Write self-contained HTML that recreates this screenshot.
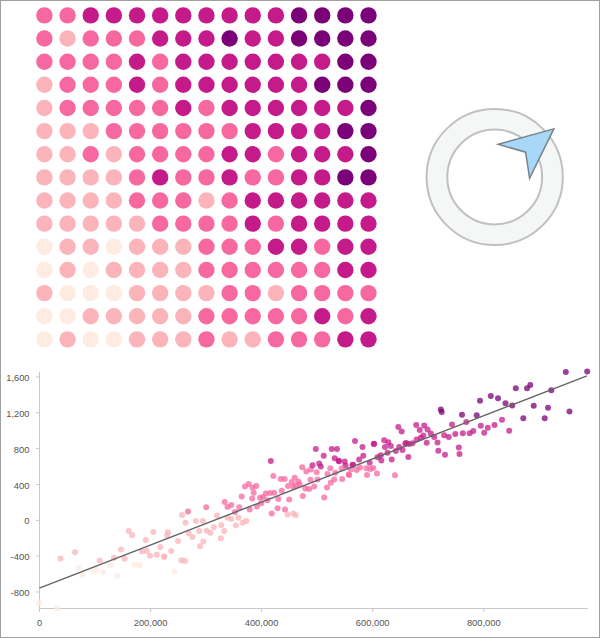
<!DOCTYPE html>
<html><head><meta charset="utf-8"><style>
html,body{margin:0;padding:0;background:#fff;}
body{width:600px;height:638px;overflow:hidden;position:relative;}
svg{position:absolute;left:0;top:0;display:block;}
text{font-family:"Liberation Sans",sans-serif;font-size:9.3px;fill:#555;}
</style></head><body>
<svg width="600" height="638" viewBox="0 0 600 638">
<rect x="0.5" y="0.5" width="599" height="637" fill="#fff" stroke="#a0a0a0" stroke-width="1"/>
<g>
<circle cx="44.40" cy="15.40" r="8.2" fill="#f768a1"/>
<circle cx="67.55" cy="15.40" r="8.2" fill="#f768a1"/>
<circle cx="90.70" cy="15.40" r="8.2" fill="#c51b8a"/>
<circle cx="113.85" cy="15.40" r="8.2" fill="#c51b8a"/>
<circle cx="137.00" cy="15.40" r="8.2" fill="#c51b8a"/>
<circle cx="160.15" cy="15.40" r="8.2" fill="#c51b8a"/>
<circle cx="183.30" cy="15.40" r="8.2" fill="#c51b8a"/>
<circle cx="206.45" cy="15.40" r="8.2" fill="#c51b8a"/>
<circle cx="229.60" cy="15.40" r="8.2" fill="#c51b8a"/>
<circle cx="252.75" cy="15.40" r="8.2" fill="#c51b8a"/>
<circle cx="275.90" cy="15.40" r="8.2" fill="#c51b8a"/>
<circle cx="299.05" cy="15.40" r="8.2" fill="#7a0177"/>
<circle cx="322.20" cy="15.40" r="8.2" fill="#7a0177"/>
<circle cx="345.35" cy="15.40" r="8.2" fill="#7a0177"/>
<circle cx="368.50" cy="15.40" r="8.2" fill="#7a0177"/>
<circle cx="44.40" cy="38.54" r="8.2" fill="#f768a1"/>
<circle cx="67.55" cy="38.54" r="8.2" fill="#fbb4b9"/>
<circle cx="90.70" cy="38.54" r="8.2" fill="#f768a1"/>
<circle cx="113.85" cy="38.54" r="8.2" fill="#f768a1"/>
<circle cx="137.00" cy="38.54" r="8.2" fill="#f768a1"/>
<circle cx="160.15" cy="38.54" r="8.2" fill="#c51b8a"/>
<circle cx="183.30" cy="38.54" r="8.2" fill="#c51b8a"/>
<circle cx="206.45" cy="38.54" r="8.2" fill="#c51b8a"/>
<circle cx="229.60" cy="38.54" r="8.2" fill="#7a0177"/>
<circle cx="252.75" cy="38.54" r="8.2" fill="#c51b8a"/>
<circle cx="275.90" cy="38.54" r="8.2" fill="#c51b8a"/>
<circle cx="299.05" cy="38.54" r="8.2" fill="#7a0177"/>
<circle cx="322.20" cy="38.54" r="8.2" fill="#7a0177"/>
<circle cx="345.35" cy="38.54" r="8.2" fill="#7a0177"/>
<circle cx="368.50" cy="38.54" r="8.2" fill="#7a0177"/>
<circle cx="44.40" cy="61.68" r="8.2" fill="#f768a1"/>
<circle cx="67.55" cy="61.68" r="8.2" fill="#f768a1"/>
<circle cx="90.70" cy="61.68" r="8.2" fill="#f768a1"/>
<circle cx="113.85" cy="61.68" r="8.2" fill="#f768a1"/>
<circle cx="137.00" cy="61.68" r="8.2" fill="#c51b8a"/>
<circle cx="160.15" cy="61.68" r="8.2" fill="#f768a1"/>
<circle cx="183.30" cy="61.68" r="8.2" fill="#c51b8a"/>
<circle cx="206.45" cy="61.68" r="8.2" fill="#c51b8a"/>
<circle cx="229.60" cy="61.68" r="8.2" fill="#c51b8a"/>
<circle cx="252.75" cy="61.68" r="8.2" fill="#c51b8a"/>
<circle cx="275.90" cy="61.68" r="8.2" fill="#c51b8a"/>
<circle cx="299.05" cy="61.68" r="8.2" fill="#c51b8a"/>
<circle cx="322.20" cy="61.68" r="8.2" fill="#c51b8a"/>
<circle cx="345.35" cy="61.68" r="8.2" fill="#7a0177"/>
<circle cx="368.50" cy="61.68" r="8.2" fill="#7a0177"/>
<circle cx="44.40" cy="84.82" r="8.2" fill="#fbb4b9"/>
<circle cx="67.55" cy="84.82" r="8.2" fill="#f768a1"/>
<circle cx="90.70" cy="84.82" r="8.2" fill="#f768a1"/>
<circle cx="113.85" cy="84.82" r="8.2" fill="#f768a1"/>
<circle cx="137.00" cy="84.82" r="8.2" fill="#c51b8a"/>
<circle cx="160.15" cy="84.82" r="8.2" fill="#f768a1"/>
<circle cx="183.30" cy="84.82" r="8.2" fill="#c51b8a"/>
<circle cx="206.45" cy="84.82" r="8.2" fill="#c51b8a"/>
<circle cx="229.60" cy="84.82" r="8.2" fill="#c51b8a"/>
<circle cx="252.75" cy="84.82" r="8.2" fill="#c51b8a"/>
<circle cx="275.90" cy="84.82" r="8.2" fill="#c51b8a"/>
<circle cx="299.05" cy="84.82" r="8.2" fill="#c51b8a"/>
<circle cx="322.20" cy="84.82" r="8.2" fill="#7a0177"/>
<circle cx="345.35" cy="84.82" r="8.2" fill="#7a0177"/>
<circle cx="368.50" cy="84.82" r="8.2" fill="#7a0177"/>
<circle cx="44.40" cy="107.96" r="8.2" fill="#fbb4b9"/>
<circle cx="67.55" cy="107.96" r="8.2" fill="#f768a1"/>
<circle cx="90.70" cy="107.96" r="8.2" fill="#f768a1"/>
<circle cx="113.85" cy="107.96" r="8.2" fill="#f768a1"/>
<circle cx="137.00" cy="107.96" r="8.2" fill="#f768a1"/>
<circle cx="160.15" cy="107.96" r="8.2" fill="#f768a1"/>
<circle cx="183.30" cy="107.96" r="8.2" fill="#c51b8a"/>
<circle cx="206.45" cy="107.96" r="8.2" fill="#f768a1"/>
<circle cx="229.60" cy="107.96" r="8.2" fill="#c51b8a"/>
<circle cx="252.75" cy="107.96" r="8.2" fill="#c51b8a"/>
<circle cx="275.90" cy="107.96" r="8.2" fill="#c51b8a"/>
<circle cx="299.05" cy="107.96" r="8.2" fill="#c51b8a"/>
<circle cx="322.20" cy="107.96" r="8.2" fill="#c51b8a"/>
<circle cx="345.35" cy="107.96" r="8.2" fill="#c51b8a"/>
<circle cx="368.50" cy="107.96" r="8.2" fill="#7a0177"/>
<circle cx="44.40" cy="131.10" r="8.2" fill="#fbb4b9"/>
<circle cx="67.55" cy="131.10" r="8.2" fill="#fbb4b9"/>
<circle cx="90.70" cy="131.10" r="8.2" fill="#fbb4b9"/>
<circle cx="113.85" cy="131.10" r="8.2" fill="#f768a1"/>
<circle cx="137.00" cy="131.10" r="8.2" fill="#f768a1"/>
<circle cx="160.15" cy="131.10" r="8.2" fill="#f768a1"/>
<circle cx="183.30" cy="131.10" r="8.2" fill="#f768a1"/>
<circle cx="206.45" cy="131.10" r="8.2" fill="#f768a1"/>
<circle cx="229.60" cy="131.10" r="8.2" fill="#f768a1"/>
<circle cx="252.75" cy="131.10" r="8.2" fill="#c51b8a"/>
<circle cx="275.90" cy="131.10" r="8.2" fill="#c51b8a"/>
<circle cx="299.05" cy="131.10" r="8.2" fill="#c51b8a"/>
<circle cx="322.20" cy="131.10" r="8.2" fill="#c51b8a"/>
<circle cx="345.35" cy="131.10" r="8.2" fill="#7a0177"/>
<circle cx="368.50" cy="131.10" r="8.2" fill="#7a0177"/>
<circle cx="44.40" cy="154.24" r="8.2" fill="#fbb4b9"/>
<circle cx="67.55" cy="154.24" r="8.2" fill="#fbb4b9"/>
<circle cx="90.70" cy="154.24" r="8.2" fill="#f768a1"/>
<circle cx="113.85" cy="154.24" r="8.2" fill="#fbb4b9"/>
<circle cx="137.00" cy="154.24" r="8.2" fill="#f768a1"/>
<circle cx="160.15" cy="154.24" r="8.2" fill="#f768a1"/>
<circle cx="183.30" cy="154.24" r="8.2" fill="#f768a1"/>
<circle cx="206.45" cy="154.24" r="8.2" fill="#f768a1"/>
<circle cx="229.60" cy="154.24" r="8.2" fill="#c51b8a"/>
<circle cx="252.75" cy="154.24" r="8.2" fill="#c51b8a"/>
<circle cx="275.90" cy="154.24" r="8.2" fill="#f768a1"/>
<circle cx="299.05" cy="154.24" r="8.2" fill="#c51b8a"/>
<circle cx="322.20" cy="154.24" r="8.2" fill="#c51b8a"/>
<circle cx="345.35" cy="154.24" r="8.2" fill="#c51b8a"/>
<circle cx="368.50" cy="154.24" r="8.2" fill="#7a0177"/>
<circle cx="44.40" cy="177.38" r="8.2" fill="#fbb4b9"/>
<circle cx="67.55" cy="177.38" r="8.2" fill="#fbb4b9"/>
<circle cx="90.70" cy="177.38" r="8.2" fill="#fbb4b9"/>
<circle cx="113.85" cy="177.38" r="8.2" fill="#fbb4b9"/>
<circle cx="137.00" cy="177.38" r="8.2" fill="#f768a1"/>
<circle cx="160.15" cy="177.38" r="8.2" fill="#c51b8a"/>
<circle cx="183.30" cy="177.38" r="8.2" fill="#f768a1"/>
<circle cx="206.45" cy="177.38" r="8.2" fill="#f768a1"/>
<circle cx="229.60" cy="177.38" r="8.2" fill="#c51b8a"/>
<circle cx="252.75" cy="177.38" r="8.2" fill="#f768a1"/>
<circle cx="275.90" cy="177.38" r="8.2" fill="#f768a1"/>
<circle cx="299.05" cy="177.38" r="8.2" fill="#c51b8a"/>
<circle cx="322.20" cy="177.38" r="8.2" fill="#c51b8a"/>
<circle cx="345.35" cy="177.38" r="8.2" fill="#7a0177"/>
<circle cx="368.50" cy="177.38" r="8.2" fill="#7a0177"/>
<circle cx="44.40" cy="200.52" r="8.2" fill="#fbb4b9"/>
<circle cx="67.55" cy="200.52" r="8.2" fill="#fbb4b9"/>
<circle cx="90.70" cy="200.52" r="8.2" fill="#fbb4b9"/>
<circle cx="113.85" cy="200.52" r="8.2" fill="#fbb4b9"/>
<circle cx="137.00" cy="200.52" r="8.2" fill="#f768a1"/>
<circle cx="160.15" cy="200.52" r="8.2" fill="#f768a1"/>
<circle cx="183.30" cy="200.52" r="8.2" fill="#f768a1"/>
<circle cx="206.45" cy="200.52" r="8.2" fill="#fbb4b9"/>
<circle cx="229.60" cy="200.52" r="8.2" fill="#f768a1"/>
<circle cx="252.75" cy="200.52" r="8.2" fill="#c51b8a"/>
<circle cx="275.90" cy="200.52" r="8.2" fill="#c51b8a"/>
<circle cx="299.05" cy="200.52" r="8.2" fill="#c51b8a"/>
<circle cx="322.20" cy="200.52" r="8.2" fill="#c51b8a"/>
<circle cx="345.35" cy="200.52" r="8.2" fill="#c51b8a"/>
<circle cx="368.50" cy="200.52" r="8.2" fill="#c51b8a"/>
<circle cx="44.40" cy="223.66" r="8.2" fill="#fbb4b9"/>
<circle cx="67.55" cy="223.66" r="8.2" fill="#fbb4b9"/>
<circle cx="90.70" cy="223.66" r="8.2" fill="#fbb4b9"/>
<circle cx="113.85" cy="223.66" r="8.2" fill="#fbb4b9"/>
<circle cx="137.00" cy="223.66" r="8.2" fill="#fbb4b9"/>
<circle cx="160.15" cy="223.66" r="8.2" fill="#f768a1"/>
<circle cx="183.30" cy="223.66" r="8.2" fill="#f768a1"/>
<circle cx="206.45" cy="223.66" r="8.2" fill="#f768a1"/>
<circle cx="229.60" cy="223.66" r="8.2" fill="#f768a1"/>
<circle cx="252.75" cy="223.66" r="8.2" fill="#c51b8a"/>
<circle cx="275.90" cy="223.66" r="8.2" fill="#f768a1"/>
<circle cx="299.05" cy="223.66" r="8.2" fill="#c51b8a"/>
<circle cx="322.20" cy="223.66" r="8.2" fill="#c51b8a"/>
<circle cx="345.35" cy="223.66" r="8.2" fill="#c51b8a"/>
<circle cx="368.50" cy="223.66" r="8.2" fill="#c51b8a"/>
<circle cx="44.40" cy="246.80" r="8.2" fill="#feebe2"/>
<circle cx="67.55" cy="246.80" r="8.2" fill="#fbb4b9"/>
<circle cx="90.70" cy="246.80" r="8.2" fill="#fbb4b9"/>
<circle cx="113.85" cy="246.80" r="8.2" fill="#feebe2"/>
<circle cx="137.00" cy="246.80" r="8.2" fill="#fbb4b9"/>
<circle cx="160.15" cy="246.80" r="8.2" fill="#fbb4b9"/>
<circle cx="183.30" cy="246.80" r="8.2" fill="#fbb4b9"/>
<circle cx="206.45" cy="246.80" r="8.2" fill="#f768a1"/>
<circle cx="229.60" cy="246.80" r="8.2" fill="#f768a1"/>
<circle cx="252.75" cy="246.80" r="8.2" fill="#f768a1"/>
<circle cx="275.90" cy="246.80" r="8.2" fill="#c51b8a"/>
<circle cx="299.05" cy="246.80" r="8.2" fill="#c51b8a"/>
<circle cx="322.20" cy="246.80" r="8.2" fill="#f768a1"/>
<circle cx="345.35" cy="246.80" r="8.2" fill="#c51b8a"/>
<circle cx="368.50" cy="246.80" r="8.2" fill="#c51b8a"/>
<circle cx="44.40" cy="269.94" r="8.2" fill="#feebe2"/>
<circle cx="67.55" cy="269.94" r="8.2" fill="#fbb4b9"/>
<circle cx="90.70" cy="269.94" r="8.2" fill="#feebe2"/>
<circle cx="113.85" cy="269.94" r="8.2" fill="#fbb4b9"/>
<circle cx="137.00" cy="269.94" r="8.2" fill="#fbb4b9"/>
<circle cx="160.15" cy="269.94" r="8.2" fill="#fbb4b9"/>
<circle cx="183.30" cy="269.94" r="8.2" fill="#fbb4b9"/>
<circle cx="206.45" cy="269.94" r="8.2" fill="#f768a1"/>
<circle cx="229.60" cy="269.94" r="8.2" fill="#f768a1"/>
<circle cx="252.75" cy="269.94" r="8.2" fill="#f768a1"/>
<circle cx="275.90" cy="269.94" r="8.2" fill="#f768a1"/>
<circle cx="299.05" cy="269.94" r="8.2" fill="#f768a1"/>
<circle cx="322.20" cy="269.94" r="8.2" fill="#f768a1"/>
<circle cx="345.35" cy="269.94" r="8.2" fill="#c51b8a"/>
<circle cx="368.50" cy="269.94" r="8.2" fill="#c51b8a"/>
<circle cx="44.40" cy="293.08" r="8.2" fill="#fbb4b9"/>
<circle cx="67.55" cy="293.08" r="8.2" fill="#feebe2"/>
<circle cx="90.70" cy="293.08" r="8.2" fill="#feebe2"/>
<circle cx="113.85" cy="293.08" r="8.2" fill="#feebe2"/>
<circle cx="137.00" cy="293.08" r="8.2" fill="#fbb4b9"/>
<circle cx="160.15" cy="293.08" r="8.2" fill="#fbb4b9"/>
<circle cx="183.30" cy="293.08" r="8.2" fill="#fbb4b9"/>
<circle cx="206.45" cy="293.08" r="8.2" fill="#fbb4b9"/>
<circle cx="229.60" cy="293.08" r="8.2" fill="#f768a1"/>
<circle cx="252.75" cy="293.08" r="8.2" fill="#f768a1"/>
<circle cx="275.90" cy="293.08" r="8.2" fill="#fbb4b9"/>
<circle cx="299.05" cy="293.08" r="8.2" fill="#f768a1"/>
<circle cx="322.20" cy="293.08" r="8.2" fill="#f768a1"/>
<circle cx="345.35" cy="293.08" r="8.2" fill="#f768a1"/>
<circle cx="368.50" cy="293.08" r="8.2" fill="#f768a1"/>
<circle cx="44.40" cy="316.22" r="8.2" fill="#feebe2"/>
<circle cx="67.55" cy="316.22" r="8.2" fill="#feebe2"/>
<circle cx="90.70" cy="316.22" r="8.2" fill="#fbb4b9"/>
<circle cx="113.85" cy="316.22" r="8.2" fill="#fbb4b9"/>
<circle cx="137.00" cy="316.22" r="8.2" fill="#fbb4b9"/>
<circle cx="160.15" cy="316.22" r="8.2" fill="#fbb4b9"/>
<circle cx="183.30" cy="316.22" r="8.2" fill="#fbb4b9"/>
<circle cx="206.45" cy="316.22" r="8.2" fill="#f768a1"/>
<circle cx="229.60" cy="316.22" r="8.2" fill="#f768a1"/>
<circle cx="252.75" cy="316.22" r="8.2" fill="#f768a1"/>
<circle cx="275.90" cy="316.22" r="8.2" fill="#f768a1"/>
<circle cx="299.05" cy="316.22" r="8.2" fill="#f768a1"/>
<circle cx="322.20" cy="316.22" r="8.2" fill="#c51b8a"/>
<circle cx="345.35" cy="316.22" r="8.2" fill="#f768a1"/>
<circle cx="368.50" cy="316.22" r="8.2" fill="#c51b8a"/>
<circle cx="44.40" cy="339.36" r="8.2" fill="#feebe2"/>
<circle cx="67.55" cy="339.36" r="8.2" fill="#fbb4b9"/>
<circle cx="90.70" cy="339.36" r="8.2" fill="#feebe2"/>
<circle cx="113.85" cy="339.36" r="8.2" fill="#feebe2"/>
<circle cx="137.00" cy="339.36" r="8.2" fill="#fbb4b9"/>
<circle cx="160.15" cy="339.36" r="8.2" fill="#fbb4b9"/>
<circle cx="183.30" cy="339.36" r="8.2" fill="#fbb4b9"/>
<circle cx="206.45" cy="339.36" r="8.2" fill="#f768a1"/>
<circle cx="229.60" cy="339.36" r="8.2" fill="#fbb4b9"/>
<circle cx="252.75" cy="339.36" r="8.2" fill="#fbb4b9"/>
<circle cx="275.90" cy="339.36" r="8.2" fill="#f768a1"/>
<circle cx="299.05" cy="339.36" r="8.2" fill="#f768a1"/>
<circle cx="322.20" cy="339.36" r="8.2" fill="#f768a1"/>
<circle cx="345.35" cy="339.36" r="8.2" fill="#c51b8a"/>
<circle cx="368.50" cy="339.36" r="8.2" fill="#c51b8a"/>
</g>
<g>
<circle cx="494.7" cy="177" r="57.75" fill="none" stroke="#f5f7f7" stroke-width="20.7"/>
<circle cx="494.7" cy="177" r="68.1" fill="none" stroke="#c0c0c0" stroke-width="2"/>
<circle cx="494.7" cy="177" r="47.4" fill="none" stroke="#c0c0c0" stroke-width="2"/>
<path d="M553.8,128.9 L498.2,144.3 L525.6,152.2 L529.6,178.3 Z" fill="#a8d8f8" stroke="#7a8288" stroke-width="1.5" stroke-linejoin="miter"/>
</g>
<g>
<line x1="39.5" y1="371.8" x2="39.5" y2="608.5" stroke="#c8c8c8" stroke-width="1"/>
<line x1="39.5" y1="608.5" x2="587.6" y2="608.5" stroke="#c8c8c8" stroke-width="1"/>
<line x1="36" y1="376.9" x2="39.5" y2="376.9" stroke="#c8c8c8" stroke-width="1"/>
<line x1="36" y1="412.8" x2="39.5" y2="412.8" stroke="#c8c8c8" stroke-width="1"/>
<line x1="36" y1="448.6" x2="39.5" y2="448.6" stroke="#c8c8c8" stroke-width="1"/>
<line x1="36" y1="484.5" x2="39.5" y2="484.5" stroke="#c8c8c8" stroke-width="1"/>
<line x1="36" y1="520.3" x2="39.5" y2="520.3" stroke="#c8c8c8" stroke-width="1"/>
<line x1="36" y1="556.1" x2="39.5" y2="556.1" stroke="#c8c8c8" stroke-width="1"/>
<line x1="36" y1="592.0" x2="39.5" y2="592.0" stroke="#c8c8c8" stroke-width="1"/>
<line x1="39.5" y1="608.5" x2="39.5" y2="612" stroke="#c8c8c8" stroke-width="1"/>
<line x1="150.6" y1="608.5" x2="150.6" y2="612" stroke="#c8c8c8" stroke-width="1"/>
<line x1="261.6" y1="608.5" x2="261.6" y2="612" stroke="#c8c8c8" stroke-width="1"/>
<line x1="372.7" y1="608.5" x2="372.7" y2="612" stroke="#c8c8c8" stroke-width="1"/>
<line x1="483.8" y1="608.5" x2="483.8" y2="612" stroke="#c8c8c8" stroke-width="1"/>
</g>
<g>
<text x="29.5" y="380.9" text-anchor="end" textLength="23.2" lengthAdjust="spacingAndGlyphs">1,600</text>
<text x="29.5" y="416.8" text-anchor="end" textLength="23.2" lengthAdjust="spacingAndGlyphs">1,200</text>
<text x="29.5" y="452.6" text-anchor="end" textLength="15.7" lengthAdjust="spacingAndGlyphs">800</text>
<text x="29.5" y="488.5" text-anchor="end" textLength="15.7" lengthAdjust="spacingAndGlyphs">400</text>
<text x="29.5" y="524.3" text-anchor="end" textLength="5.2" lengthAdjust="spacingAndGlyphs">0</text>
<text x="29.5" y="560.1" text-anchor="end" textLength="19.0" lengthAdjust="spacingAndGlyphs">-400</text>
<text x="29.5" y="596.0" text-anchor="end" textLength="19.0" lengthAdjust="spacingAndGlyphs">-800</text>
<text x="39.5" y="626.0" text-anchor="middle" textLength="5.2" lengthAdjust="spacingAndGlyphs">0</text>
<text x="150.6" y="626.0" text-anchor="middle" textLength="33.7" lengthAdjust="spacingAndGlyphs">200,000</text>
<text x="261.6" y="626.0" text-anchor="middle" textLength="33.7" lengthAdjust="spacingAndGlyphs">400,000</text>
<text x="372.7" y="626.0" text-anchor="middle" textLength="33.7" lengthAdjust="spacingAndGlyphs">600,000</text>
<text x="483.8" y="626.0" text-anchor="middle" textLength="33.7" lengthAdjust="spacingAndGlyphs">800,000</text>
</g>
<g>
<circle cx="60.5" cy="558.6" r="3.0" fill="#fbb4b9" fill-opacity="0.75"/>
<circle cx="75.0" cy="552.3" r="3.0" fill="#fbb4b9" fill-opacity="0.75"/>
<circle cx="78.7" cy="567.8" r="3.0" fill="#feebe2" fill-opacity="0.75"/>
<circle cx="82.2" cy="574.8" r="3.0" fill="#feebe2" fill-opacity="0.75"/>
<circle cx="92.5" cy="571.1" r="3.0" fill="#feebe2" fill-opacity="0.75"/>
<circle cx="96.3" cy="569.5" r="3.0" fill="#feebe2" fill-opacity="0.75"/>
<circle cx="99.7" cy="560.6" r="3.0" fill="#fbb4b9" fill-opacity="0.75"/>
<circle cx="103.0" cy="572.3" r="3.0" fill="#feebe2" fill-opacity="0.75"/>
<circle cx="110.8" cy="565.0" r="3.0" fill="#feebe2" fill-opacity="0.75"/>
<circle cx="114.0" cy="557.8" r="3.0" fill="#fbb4b9" fill-opacity="0.75"/>
<circle cx="117.5" cy="575.8" r="3.0" fill="#feebe2" fill-opacity="0.75"/>
<circle cx="121.0" cy="549.6" r="3.0" fill="#fbb4b9" fill-opacity="0.75"/>
<circle cx="124.7" cy="558.8" r="3.0" fill="#fbb4b9" fill-opacity="0.75"/>
<circle cx="128.7" cy="531.1" r="3.0" fill="#fbb4b9" fill-opacity="0.75"/>
<circle cx="132.2" cy="535.3" r="3.0" fill="#fbb4b9" fill-opacity="0.75"/>
<circle cx="134.7" cy="564.5" r="3.0" fill="#feebe2" fill-opacity="0.75"/>
<circle cx="39.2" cy="602.8" r="3.0" fill="#feebe2" fill-opacity="0.75"/>
<circle cx="57.2" cy="608.6" r="3.0" fill="#feebe2" fill-opacity="0.75"/>
<circle cx="145.8" cy="540.0" r="3.0" fill="#fbb4b9" fill-opacity="0.75"/>
<circle cx="153.3" cy="532.0" r="3.0" fill="#fbb4b9" fill-opacity="0.75"/>
<circle cx="142.0" cy="551.6" r="3.0" fill="#fbb4b9" fill-opacity="0.75"/>
<circle cx="146.7" cy="551.1" r="3.0" fill="#fbb4b9" fill-opacity="0.75"/>
<circle cx="150.0" cy="555.8" r="3.0" fill="#fbb4b9" fill-opacity="0.75"/>
<circle cx="156.7" cy="554.8" r="3.0" fill="#fbb4b9" fill-opacity="0.75"/>
<circle cx="160.3" cy="547.0" r="3.0" fill="#fbb4b9" fill-opacity="0.75"/>
<circle cx="164.0" cy="556.6" r="3.0" fill="#fbb4b9" fill-opacity="0.75"/>
<circle cx="168.0" cy="532.3" r="3.0" fill="#fbb4b9" fill-opacity="0.75"/>
<circle cx="167.0" cy="535.6" r="3.0" fill="#fbb4b9" fill-opacity="0.75"/>
<circle cx="171.2" cy="551.0" r="3.0" fill="#fbb4b9" fill-opacity="0.75"/>
<circle cx="178.0" cy="541.1" r="3.0" fill="#fbb4b9" fill-opacity="0.75"/>
<circle cx="182.0" cy="515.0" r="3.0" fill="#fbb4b9" fill-opacity="0.75"/>
<circle cx="188.0" cy="511.6" r="3.0" fill="#f768a1" fill-opacity="0.75"/>
<circle cx="185.5" cy="522.8" r="3.0" fill="#fbb4b9" fill-opacity="0.75"/>
<circle cx="188.7" cy="533.3" r="3.0" fill="#fbb4b9" fill-opacity="0.75"/>
<circle cx="192.5" cy="537.0" r="3.0" fill="#fbb4b9" fill-opacity="0.75"/>
<circle cx="181.3" cy="560.3" r="3.0" fill="#fbb4b9" fill-opacity="0.75"/>
<circle cx="185.0" cy="561.1" r="3.0" fill="#fbb4b9" fill-opacity="0.75"/>
<circle cx="139.7" cy="565.3" r="3.0" fill="#feebe2" fill-opacity="0.75"/>
<circle cx="174.5" cy="571.5" r="3.0" fill="#feebe2" fill-opacity="0.75"/>
<circle cx="195.8" cy="521.1" r="3.0" fill="#fbb4b9" fill-opacity="0.75"/>
<circle cx="202.8" cy="521.1" r="3.0" fill="#fbb4b9" fill-opacity="0.75"/>
<circle cx="199.2" cy="531.0" r="3.0" fill="#fbb4b9" fill-opacity="0.75"/>
<circle cx="206.2" cy="507.3" r="3.0" fill="#f768a1" fill-opacity="0.75"/>
<circle cx="206.7" cy="530.8" r="3.0" fill="#fbb4b9" fill-opacity="0.75"/>
<circle cx="210.3" cy="532.8" r="3.0" fill="#fbb4b9" fill-opacity="0.75"/>
<circle cx="203.3" cy="541.6" r="3.0" fill="#fbb4b9" fill-opacity="0.75"/>
<circle cx="200.0" cy="546.3" r="3.0" fill="#fbb4b9" fill-opacity="0.75"/>
<circle cx="213.8" cy="527.3" r="3.0" fill="#fbb4b9" fill-opacity="0.75"/>
<circle cx="217.0" cy="515.6" r="3.0" fill="#fbb4b9" fill-opacity="0.75"/>
<circle cx="221.3" cy="525.0" r="3.0" fill="#fbb4b9" fill-opacity="0.75"/>
<circle cx="224.2" cy="531.1" r="3.0" fill="#fbb4b9" fill-opacity="0.75"/>
<circle cx="220.8" cy="538.3" r="3.0" fill="#fbb4b9" fill-opacity="0.75"/>
<circle cx="224.7" cy="502.0" r="3.0" fill="#f768a1" fill-opacity="0.75"/>
<circle cx="227.5" cy="507.0" r="3.0" fill="#f768a1" fill-opacity="0.75"/>
<circle cx="227.5" cy="517.8" r="3.0" fill="#fbb4b9" fill-opacity="0.75"/>
<circle cx="231.3" cy="505.0" r="3.0" fill="#f768a1" fill-opacity="0.75"/>
<circle cx="235.0" cy="512.0" r="3.0" fill="#f768a1" fill-opacity="0.75"/>
<circle cx="239.2" cy="507.3" r="3.0" fill="#f768a1" fill-opacity="0.75"/>
<circle cx="241.7" cy="496.5" r="3.0" fill="#f768a1" fill-opacity="0.75"/>
<circle cx="245.0" cy="486.5" r="3.0" fill="#f768a1" fill-opacity="0.75"/>
<circle cx="248.7" cy="484.0" r="3.0" fill="#f768a1" fill-opacity="0.75"/>
<circle cx="252.5" cy="487.8" r="3.0" fill="#f768a1" fill-opacity="0.75"/>
<circle cx="256.3" cy="486.1" r="3.0" fill="#f768a1" fill-opacity="0.75"/>
<circle cx="253.7" cy="492.8" r="3.0" fill="#f768a1" fill-opacity="0.75"/>
<circle cx="252.2" cy="498.6" r="3.0" fill="#f768a1" fill-opacity="0.75"/>
<circle cx="249.7" cy="509.5" r="3.0" fill="#f768a1" fill-opacity="0.75"/>
<circle cx="257.0" cy="506.6" r="3.0" fill="#f768a1" fill-opacity="0.75"/>
<circle cx="260.0" cy="497.8" r="3.0" fill="#f768a1" fill-opacity="0.75"/>
<circle cx="263.0" cy="497.0" r="3.0" fill="#f768a1" fill-opacity="0.75"/>
<circle cx="261.3" cy="503.3" r="3.0" fill="#f768a1" fill-opacity="0.75"/>
<circle cx="265.8" cy="493.6" r="3.0" fill="#f768a1" fill-opacity="0.75"/>
<circle cx="270.0" cy="493.1" r="3.0" fill="#f768a1" fill-opacity="0.75"/>
<circle cx="267.5" cy="500.3" r="3.0" fill="#f768a1" fill-opacity="0.75"/>
<circle cx="274.2" cy="492.8" r="3.0" fill="#f768a1" fill-opacity="0.75"/>
<circle cx="278.3" cy="499.0" r="3.0" fill="#f768a1" fill-opacity="0.75"/>
<circle cx="281.7" cy="490.8" r="3.0" fill="#f768a1" fill-opacity="0.75"/>
<circle cx="273.3" cy="476.1" r="3.0" fill="#f768a1" fill-opacity="0.75"/>
<circle cx="280.8" cy="479.0" r="3.0" fill="#f768a1" fill-opacity="0.75"/>
<circle cx="284.7" cy="479.0" r="3.0" fill="#f768a1" fill-opacity="0.75"/>
<circle cx="270.8" cy="461.1" r="3.0" fill="#c51b8a" fill-opacity="0.75"/>
<circle cx="277.5" cy="508.3" r="3.0" fill="#f768a1" fill-opacity="0.75"/>
<circle cx="271.7" cy="513.6" r="3.0" fill="#f768a1" fill-opacity="0.75"/>
<circle cx="285.0" cy="509.5" r="3.0" fill="#f768a1" fill-opacity="0.75"/>
<circle cx="289.2" cy="499.5" r="3.0" fill="#f768a1" fill-opacity="0.75"/>
<circle cx="288.0" cy="486.1" r="3.0" fill="#f768a1" fill-opacity="0.75"/>
<circle cx="291.7" cy="482.0" r="3.0" fill="#f768a1" fill-opacity="0.75"/>
<circle cx="294.7" cy="477.8" r="3.0" fill="#f768a1" fill-opacity="0.75"/>
<circle cx="293.3" cy="487.0" r="3.0" fill="#f768a1" fill-opacity="0.75"/>
<circle cx="298.3" cy="481.6" r="3.0" fill="#f768a1" fill-opacity="0.75"/>
<circle cx="299.7" cy="484.5" r="3.0" fill="#f768a1" fill-opacity="0.75"/>
<circle cx="295.8" cy="485.3" r="3.0" fill="#f768a1" fill-opacity="0.75"/>
<circle cx="302.8" cy="496.1" r="3.0" fill="#f768a1" fill-opacity="0.75"/>
<circle cx="305.3" cy="488.6" r="3.0" fill="#f768a1" fill-opacity="0.75"/>
<circle cx="309.2" cy="489.0" r="3.0" fill="#f768a1" fill-opacity="0.75"/>
<circle cx="314.2" cy="486.5" r="3.0" fill="#f768a1" fill-opacity="0.75"/>
<circle cx="310.5" cy="479.8" r="3.0" fill="#f768a1" fill-opacity="0.75"/>
<circle cx="317.5" cy="479.5" r="3.0" fill="#f768a1" fill-opacity="0.75"/>
<circle cx="302.2" cy="467.3" r="3.0" fill="#f768a1" fill-opacity="0.75"/>
<circle cx="306.3" cy="471.6" r="3.0" fill="#f768a1" fill-opacity="0.75"/>
<circle cx="310.8" cy="469.5" r="3.0" fill="#f768a1" fill-opacity="0.75"/>
<circle cx="316.7" cy="472.3" r="3.0" fill="#f768a1" fill-opacity="0.75"/>
<circle cx="312.5" cy="465.3" r="3.0" fill="#c51b8a" fill-opacity="0.75"/>
<circle cx="319.2" cy="463.6" r="3.0" fill="#c51b8a" fill-opacity="0.75"/>
<circle cx="287.5" cy="514.5" r="3.0" fill="#fbb4b9" fill-opacity="0.75"/>
<circle cx="293.3" cy="513.6" r="3.0" fill="#fbb4b9" fill-opacity="0.75"/>
<circle cx="295.8" cy="515.3" r="3.0" fill="#fbb4b9" fill-opacity="0.75"/>
<circle cx="231.3" cy="519.0" r="3.0" fill="#fbb4b9" fill-opacity="0.75"/>
<circle cx="238.3" cy="517.8" r="3.0" fill="#fbb4b9" fill-opacity="0.75"/>
<circle cx="242.5" cy="522.8" r="3.0" fill="#fbb4b9" fill-opacity="0.75"/>
<circle cx="246.3" cy="521.1" r="3.0" fill="#fbb4b9" fill-opacity="0.75"/>
<circle cx="235.8" cy="525.3" r="3.0" fill="#fbb4b9" fill-opacity="0.75"/>
<circle cx="315.8" cy="449.0" r="3.0" fill="#c51b8a" fill-opacity="0.75"/>
<circle cx="320.8" cy="466.6" r="3.0" fill="#c51b8a" fill-opacity="0.75"/>
<circle cx="323.7" cy="455.8" r="3.0" fill="#c51b8a" fill-opacity="0.75"/>
<circle cx="331.7" cy="449.0" r="3.0" fill="#c51b8a" fill-opacity="0.75"/>
<circle cx="337.0" cy="449.0" r="3.0" fill="#c51b8a" fill-opacity="0.75"/>
<circle cx="334.7" cy="458.3" r="3.0" fill="#c51b8a" fill-opacity="0.75"/>
<circle cx="338.7" cy="460.8" r="3.0" fill="#c51b8a" fill-opacity="0.75"/>
<circle cx="344.7" cy="461.5" r="3.0" fill="#c51b8a" fill-opacity="0.75"/>
<circle cx="345.5" cy="465.6" r="3.0" fill="#c51b8a" fill-opacity="0.75"/>
<circle cx="352.5" cy="465.0" r="3.0" fill="#c51b8a" fill-opacity="0.75"/>
<circle cx="355.0" cy="441.1" r="3.0" fill="#c51b8a" fill-opacity="0.75"/>
<circle cx="362.5" cy="447.0" r="3.0" fill="#c51b8a" fill-opacity="0.75"/>
<circle cx="363.3" cy="455.8" r="3.0" fill="#c51b8a" fill-opacity="0.75"/>
<circle cx="359.2" cy="459.5" r="3.0" fill="#c51b8a" fill-opacity="0.75"/>
<circle cx="369.7" cy="462.8" r="3.0" fill="#c51b8a" fill-opacity="0.75"/>
<circle cx="373.7" cy="444.0" r="3.0" fill="#c51b8a" fill-opacity="0.75"/>
<circle cx="377.5" cy="457.3" r="3.0" fill="#c51b8a" fill-opacity="0.75"/>
<circle cx="380.8" cy="455.3" r="3.0" fill="#c51b8a" fill-opacity="0.75"/>
<circle cx="381.3" cy="460.6" r="3.0" fill="#c51b8a" fill-opacity="0.75"/>
<circle cx="384.2" cy="440.3" r="3.0" fill="#c51b8a" fill-opacity="0.75"/>
<circle cx="388.3" cy="442.3" r="3.0" fill="#c51b8a" fill-opacity="0.75"/>
<circle cx="385.0" cy="447.0" r="3.0" fill="#c51b8a" fill-opacity="0.75"/>
<circle cx="390.8" cy="446.1" r="3.0" fill="#c51b8a" fill-opacity="0.75"/>
<circle cx="387.5" cy="452.8" r="3.0" fill="#c51b8a" fill-opacity="0.75"/>
<circle cx="391.7" cy="459.5" r="3.0" fill="#c51b8a" fill-opacity="0.75"/>
<circle cx="395.8" cy="451.1" r="3.0" fill="#c51b8a" fill-opacity="0.75"/>
<circle cx="399.2" cy="447.0" r="3.0" fill="#c51b8a" fill-opacity="0.75"/>
<circle cx="402.5" cy="450.0" r="3.0" fill="#c51b8a" fill-opacity="0.75"/>
<circle cx="405.3" cy="443.6" r="3.0" fill="#c51b8a" fill-opacity="0.75"/>
<circle cx="409.2" cy="444.0" r="3.0" fill="#c51b8a" fill-opacity="0.75"/>
<circle cx="408.3" cy="457.0" r="3.0" fill="#c51b8a" fill-opacity="0.75"/>
<circle cx="398.3" cy="427.0" r="3.0" fill="#c51b8a" fill-opacity="0.75"/>
<circle cx="401.7" cy="431.6" r="3.0" fill="#c51b8a" fill-opacity="0.75"/>
<circle cx="330.3" cy="468.3" r="3.0" fill="#f768a1" fill-opacity="0.75"/>
<circle cx="327.5" cy="474.0" r="3.0" fill="#f768a1" fill-opacity="0.75"/>
<circle cx="335.3" cy="472.8" r="3.0" fill="#f768a1" fill-opacity="0.75"/>
<circle cx="341.7" cy="468.6" r="3.0" fill="#f768a1" fill-opacity="0.75"/>
<circle cx="334.2" cy="479.5" r="3.0" fill="#f768a1" fill-opacity="0.75"/>
<circle cx="330.8" cy="482.8" r="3.0" fill="#f768a1" fill-opacity="0.75"/>
<circle cx="327.0" cy="487.5" r="3.0" fill="#f768a1" fill-opacity="0.75"/>
<circle cx="342.2" cy="479.0" r="3.0" fill="#f768a1" fill-opacity="0.75"/>
<circle cx="324.2" cy="497.5" r="3.0" fill="#f768a1" fill-opacity="0.75"/>
<circle cx="348.7" cy="474.5" r="3.0" fill="#f768a1" fill-opacity="0.75"/>
<circle cx="350.8" cy="469.5" r="3.0" fill="#f768a1" fill-opacity="0.75"/>
<circle cx="356.7" cy="470.0" r="3.0" fill="#f768a1" fill-opacity="0.75"/>
<circle cx="360.0" cy="467.5" r="3.0" fill="#f768a1" fill-opacity="0.75"/>
<circle cx="366.3" cy="468.3" r="3.0" fill="#f768a1" fill-opacity="0.75"/>
<circle cx="370.3" cy="469.0" r="3.0" fill="#f768a1" fill-opacity="0.75"/>
<circle cx="373.3" cy="468.1" r="3.0" fill="#f768a1" fill-opacity="0.75"/>
<circle cx="367.0" cy="475.0" r="3.0" fill="#f768a1" fill-opacity="0.75"/>
<circle cx="377.0" cy="473.6" r="3.0" fill="#f768a1" fill-opacity="0.75"/>
<circle cx="395.0" cy="475.3" r="3.0" fill="#f768a1" fill-opacity="0.75"/>
<circle cx="412.5" cy="443.3" r="3.0" fill="#c51b8a" fill-opacity="0.75"/>
<circle cx="416.2" cy="425.0" r="3.0" fill="#c51b8a" fill-opacity="0.75"/>
<circle cx="419.7" cy="430.0" r="3.0" fill="#c51b8a" fill-opacity="0.75"/>
<circle cx="424.2" cy="425.6" r="3.0" fill="#c51b8a" fill-opacity="0.75"/>
<circle cx="427.5" cy="429.5" r="3.0" fill="#c51b8a" fill-opacity="0.75"/>
<circle cx="430.8" cy="433.6" r="3.0" fill="#c51b8a" fill-opacity="0.75"/>
<circle cx="434.2" cy="437.0" r="3.0" fill="#c51b8a" fill-opacity="0.75"/>
<circle cx="416.7" cy="439.5" r="3.0" fill="#c51b8a" fill-opacity="0.75"/>
<circle cx="420.8" cy="437.8" r="3.0" fill="#c51b8a" fill-opacity="0.75"/>
<circle cx="423.3" cy="435.6" r="3.0" fill="#c51b8a" fill-opacity="0.75"/>
<circle cx="426.7" cy="442.8" r="3.0" fill="#c51b8a" fill-opacity="0.75"/>
<circle cx="437.5" cy="442.5" r="3.0" fill="#c51b8a" fill-opacity="0.75"/>
<circle cx="438.3" cy="450.8" r="3.0" fill="#c51b8a" fill-opacity="0.75"/>
<circle cx="445.0" cy="454.8" r="3.0" fill="#c51b8a" fill-opacity="0.75"/>
<circle cx="444.2" cy="435.3" r="3.0" fill="#c51b8a" fill-opacity="0.75"/>
<circle cx="448.7" cy="437.0" r="3.0" fill="#c51b8a" fill-opacity="0.75"/>
<circle cx="452.0" cy="424.5" r="3.0" fill="#c51b8a" fill-opacity="0.75"/>
<circle cx="455.3" cy="434.1" r="3.0" fill="#c51b8a" fill-opacity="0.75"/>
<circle cx="458.8" cy="447.5" r="3.0" fill="#c51b8a" fill-opacity="0.75"/>
<circle cx="459.5" cy="454.1" r="3.0" fill="#c51b8a" fill-opacity="0.75"/>
<circle cx="462.8" cy="433.3" r="3.0" fill="#c51b8a" fill-opacity="0.75"/>
<circle cx="466.3" cy="422.0" r="3.0" fill="#c51b8a" fill-opacity="0.75"/>
<circle cx="469.7" cy="433.3" r="3.0" fill="#c51b8a" fill-opacity="0.75"/>
<circle cx="473.3" cy="431.1" r="3.0" fill="#c51b8a" fill-opacity="0.75"/>
<circle cx="480.8" cy="425.8" r="3.0" fill="#c51b8a" fill-opacity="0.75"/>
<circle cx="484.2" cy="432.8" r="3.0" fill="#c51b8a" fill-opacity="0.75"/>
<circle cx="487.8" cy="427.8" r="3.0" fill="#c51b8a" fill-opacity="0.75"/>
<circle cx="494.5" cy="425.0" r="3.0" fill="#c51b8a" fill-opacity="0.75"/>
<circle cx="440.8" cy="409.5" r="3.0" fill="#7a0177" fill-opacity="0.75"/>
<circle cx="441.7" cy="412.0" r="3.0" fill="#7a0177" fill-opacity="0.75"/>
<circle cx="462.0" cy="414.8" r="3.0" fill="#7a0177" fill-opacity="0.75"/>
<circle cx="476.7" cy="415.3" r="3.0" fill="#7a0177" fill-opacity="0.75"/>
<circle cx="480.0" cy="400.8" r="3.0" fill="#7a0177" fill-opacity="0.75"/>
<circle cx="490.8" cy="396.1" r="3.0" fill="#7a0177" fill-opacity="0.75"/>
<circle cx="498.0" cy="398.3" r="3.0" fill="#7a0177" fill-opacity="0.75"/>
<circle cx="505.5" cy="403.3" r="3.0" fill="#7a0177" fill-opacity="0.75"/>
<circle cx="512.2" cy="405.6" r="3.0" fill="#7a0177" fill-opacity="0.75"/>
<circle cx="515.8" cy="388.3" r="3.0" fill="#7a0177" fill-opacity="0.75"/>
<circle cx="527.0" cy="388.3" r="3.0" fill="#7a0177" fill-opacity="0.75"/>
<circle cx="530.3" cy="385.0" r="3.0" fill="#7a0177" fill-opacity="0.75"/>
<circle cx="533.7" cy="405.8" r="3.0" fill="#7a0177" fill-opacity="0.75"/>
<circle cx="523.3" cy="418.3" r="3.0" fill="#7a0177" fill-opacity="0.75"/>
<circle cx="544.7" cy="418.3" r="3.0" fill="#7a0177" fill-opacity="0.75"/>
<circle cx="548.0" cy="407.8" r="3.0" fill="#7a0177" fill-opacity="0.75"/>
<circle cx="551.3" cy="390.3" r="3.0" fill="#7a0177" fill-opacity="0.75"/>
<circle cx="565.8" cy="372.0" r="3.0" fill="#7a0177" fill-opacity="0.75"/>
<circle cx="587.2" cy="371.6" r="3.0" fill="#7a0177" fill-opacity="0.75"/>
<circle cx="569.5" cy="411.6" r="3.0" fill="#7a0177" fill-opacity="0.75"/>
<circle cx="502.0" cy="419.8" r="3.0" fill="#c51b8a" fill-opacity="0.75"/>
<circle cx="509.2" cy="430.8" r="3.0" fill="#c51b8a" fill-opacity="0.75"/>
<circle cx="338.9" cy="461.2" r="3.0" fill="#c51b8a" fill-opacity="0.75"/>
<circle cx="374.2" cy="443.7" r="3.0" fill="#c51b8a" fill-opacity="0.75"/>
<circle cx="406.3" cy="442.9" r="3.0" fill="#c51b8a" fill-opacity="0.75"/>
<circle cx="353.0" cy="464.7" r="3.0" fill="#c51b8a" fill-opacity="0.75"/>
<circle cx="349.1" cy="474.9" r="3.0" fill="#f768a1" fill-opacity="0.75"/>
<circle cx="164.4" cy="556.8" r="3.0" fill="#fbb4b9" fill-opacity="0.75"/>
</g>
<line x1="39.4" y1="588.1" x2="586.9" y2="375.8" stroke="#646464" stroke-width="1.4"/>
</svg>
</body></html>
